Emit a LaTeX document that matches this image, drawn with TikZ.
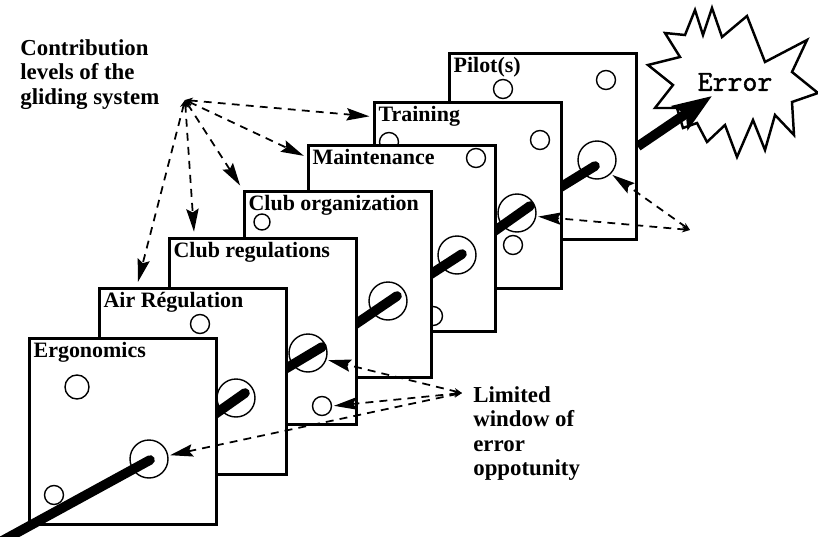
\documentclass[tikz,border=0pt]{standalone}
\usepackage{fontspec}
\setmainfont{Liberation Serif}
\newfontfamily\errfont[FakeBold=1.6]{Latin Modern Mono}
\usetikzlibrary{arrows.meta}
\tikzset{
  panel/.style={draw, fill=white, line width=1.6pt, anchor=north west,
    minimum width=3.74cm, minimum height=3.72cm, inner sep=0pt},
  title/.style={anchor=north west, inner sep=3pt,
    font=\bfseries\fontsize{12.5}{14}\selectfont},
  bighole/.style={circle, draw, fill=white, line width=0.8pt,
    minimum size=0.76cm, inner sep=0pt},
  hole/.style={circle, draw, fill=white, line width=0.8pt,
    minimum size=0.38cm, inner sep=0pt},
  beam/.style={line width=5.5pt, line cap=round},
  pointer/.style={line width=1pt, dash pattern=on 4.5pt off 3.5pt,
    {Stealth[length=4.5pt,width=3.5pt]}-{Stealth[length=13pt,width=7pt,inset=2pt]},
    shorten >=1pt},
  note/.style={anchor=north west, align=left, inner sep=0pt,
    font=\bfseries\fontsize{13}{13.9}\selectfont}
}
\begin{document}
\begin{tikzpicture}[x=0.02cm, y=-0.02cm]
  \useasboundingbox (0,0) rectangle (818,537);

  % Points the error path runs through
  \coordinate (in) at (0,542);
  \coordinate (e1) at (150,460); \coordinate (e2) at (245,393);
  \coordinate (e3) at (322,347); \coordinate (e4) at (397,296);
  \coordinate (e5) at (462,254); \coordinate (e6) at (530,206);
  \coordinate (e7) at (595,166); \coordinate (tip) at (712,96);

  % Error burst
  \draw[line width=1.4pt, fill=white] (665,33) -- (685,35) -- (695,10)
    -- (703,35) -- (712,8) -- (722,37) -- (747,16) -- (765,62) -- (807,40)
    -- (792,72) -- (818,93) -- (792,102) -- (794,135) -- (775,115)
    -- (765,150) -- (753,120) -- (737,157) -- (725,125) -- (707,142)
    -- (697,123) -- (683,128) -- (677,108) -- (655,108) -- (673,85)
    -- (648,65) -- (680,57) -- cycle;
  \node[font=\errfont\fontsize{16.5}{18}\selectfont] (err)
    at (735,82) {Error};

  % Pilot(s)
  \node[panel] (P) at (448,52) {};
  \node[title] (Pt) at (P.north west) {Pilot(s)};
  \draw[beam, line cap=butt, -{Stealth[length=22pt,width=16pt,inset=4pt]}]
    (P.east) -- (tip);
  \node[hole] (P1) at (503,89) {}; \node[hole] (P2) at (606,80) {};
  \node[bighole] (Ph) at (597,160) {};
  \draw[beam] (e6) -- (e7);

  % Training
  \node[panel] (T) at (373,101) {};
  \node[title] (Tt) at (T.north west) {Training};
  \node[hole] (T1) at (389,142) {}; \node[hole] (T2) at (540,140) {};
  \node[hole] (T3) at (513,245) {};
  \node[bighole] (Th) at (517,213) {};
  \draw[beam] (e5) -- (e6);

  % Maintenance
  \node[panel] (M) at (307,144) {};
  \node[title] (Mt) at (M.north west) {Maintenance};
  \node[hole] (M1) at (476,158) {}; \node[hole] (M2) at (433,316) {};
  \node[bighole] (Mh) at (457,255) {};
  \draw[beam] (e4) -- (e5);

  % Club organization
  \node[panel] (CO) at (243,190) {};
  \node[hole, minimum size=0.32cm] (CO1) at (262,222) {};
  \node[title] (COt) at (CO.north west) {Club organization};
  \node[bighole] (COh) at (388,301) {};
  \draw[beam] (e3) -- (e4);

  % Club regulations
  \node[panel] (CR) at (168,237) {};
  \node[title] (CRt) at (CR.north west) {Club regulations};
  \node[hole] (CR1) at (322,406) {};
  \node[bighole] (CRh) at (308,353) {};
  \draw[beam] (e2) -- (e3);

  % Air regulation
  \node[panel] (AR) at (98,287) {};
  \node[title] (ARt) at (AR.north west) {Air Régulation};
  \node[hole] (AR1) at (200,324) {};
  \node[bighole] (ARh) at (236,398) {};
  \draw[beam] (e1) -- (e2);

  % Ergonomics
  \node[panel] (E) at (28,337) {};
  \node[title] (Et) at (E.north west) {Ergonomics};
  \node[hole, minimum size=0.48cm] (E1) at (77,387) {};
  \node[hole] (E2) at (54,495) {};
  \node[bighole] (Eh) at (149,459) {};
  \draw[beam] (in) -- (e1);

  % Contribution levels
  \node[note] (levels) at (20,39) {Contribution\\levels of the\\gliding system};
  \coordinate (lfan) at (185,100);
  \draw[pointer, shorten >=2pt] (lfan) -- (Tt.west);
  \draw[pointer, shorten >=2pt] (lfan) -- (Mt.west);
  \draw[pointer, shorten >=3pt] (lfan) -- (CO.north west);
  \draw[pointer, shorten >=3pt] (lfan) -- ([xshift=15pt]CR.north west);
  \draw[pointer, shorten >=3pt] (lfan) -- ([xshift=22pt]AR.north west);

  % Limited window
  \node[note] (window) at (473,386) {Limited\\window of\\error\\oppotunity};
  \coordinate (wfan) at (462,393);
  \coordinate (rfan) at (690,230);
  \draw[pointer] (wfan) -- (CRh.-20);
  \draw[pointer] (wfan) -- (CR1.east);
  \draw[pointer] (wfan) -- (Eh.10);
  \draw[pointer] (rfan) -- (Th.-10);
  \draw[pointer] (rfan) -- (Ph.-45);
\end{tikzpicture}
\end{document}
